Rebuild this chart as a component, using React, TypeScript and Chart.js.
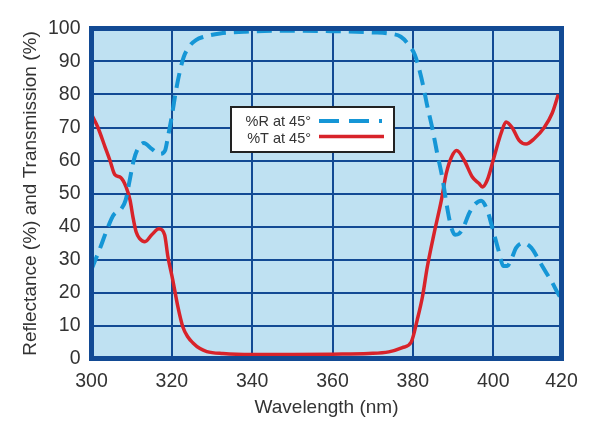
import React, { useEffect, useRef } from "react";
import { Chart, registerables } from "chart.js";

Chart.register(...registerables);

// Reflectance (%R at 45°) — wavelength (nm) and values (%)
const R_NM = [300, 302, 304, 305.5, 307.5, 308.5, 309.5, 310.5, 311.5, 313, 315, 317, 318.3, 319, 320, 321, 322, 323, 324.5, 326, 328, 332, 338, 345, 360, 370, 374, 377, 379, 380.5, 381.5, 382.5, 383.5, 384.8, 386, 387.3, 388.5, 389.5, 390.5, 391.5, 392.5, 394, 395.5, 397, 398.5, 399.7, 401.5, 402.5, 403.5, 404.5, 405.7, 407.5, 409.5, 411.5, 413.2, 414.7, 416, 417];
const R_VAL = [27, 33, 39.5, 43.5, 45.5, 48, 54, 60, 63.5, 65.3, 63.5, 62, 63, 67, 73.5, 81, 87, 91.5, 94.8, 96.5, 97.5, 98.5, 99, 99.3, 99.2, 98.8, 98.5, 97.5, 95, 92, 88, 83, 77, 70, 62.5, 55, 46, 40, 37.5, 37.8, 39.5, 44, 46.8, 47.8, 45, 40, 32, 28, 28, 30, 33.5, 35, 33.5, 29.5, 26, 23, 20, 18];

// Transmission (%T at 45°)
const T_NM = [300, 301.6, 303.4, 304.6, 305.8, 307.3, 308.6, 309.6, 310.3, 311.1, 312, 313.3, 315, 316.8, 318.2, 319, 320.2, 321.5, 322.7, 324, 325.2, 327, 328.7, 332.7, 340, 350, 360, 369, 374, 377.4, 379.6, 381.1, 382.4, 383.6, 385.3, 387.1, 388.3, 389.6, 390.9, 392.8, 394.8, 396.5, 397.3, 398.5, 400.2, 402, 403.2, 404.7, 406.5, 408.2, 410.2, 412.7, 414.7, 416.2];
const T_VAL = [74, 70, 64, 60, 55.7, 54.8, 52, 48, 43, 38.4, 36.3, 35.4, 37.5, 39.3, 37.5, 31, 24, 15.7, 9.7, 6.5, 4.8, 3, 2.1, 1.5, 1.2, 1.2, 1.3, 1.5, 2, 3.3, 5, 11.8, 18.8, 27.8, 38, 48, 56, 61, 63, 60, 55, 53, 52, 54, 61, 68.4, 71.7, 70, 66, 65, 66.6, 70, 74.4, 80];

const X_TICKS = [300, 320, 340, 360, 380, 400, 417];
const X_TICK_LABELS = ["300", "320", "340", "360", "380", "400", "420"];
const X_MIN = 300;
const X_MAX = 417;
const Y_MIN = 0;
const Y_MAX = 100;
const Y_STEP = 10;

const LABEL_R = "%R at 45°";
const LABEL_T = "%T at 45°";
const X_TITLE = "Wavelength (nm)";
const Y_TITLE = "Reflectance (%) and Transmission (%)";

const FRAME = "#124a94";
const PLOT_BG = "#bfe1f2";
const R_COLOR = "#1596d6";
const T_COLOR = "#d8232a";
const TEXT = "#333333";
const FONT_FAMILY = "'Liberation Sans', Arial, sans-serif";

const R_DASH = [15, 8];

const framePlugin = {
  id: "frameAndLegend",
  beforeDraw(chart: any) {
    const { ctx, chartArea } = chart;
    ctx.save();
    ctx.fillStyle = "#ffffff";
    ctx.fillRect(0, 0, chart.width, chart.height);
    ctx.fillStyle = PLOT_BG;
    ctx.fillRect(chartArea.left, chartArea.top, chartArea.right - chartArea.left, chartArea.bottom - chartArea.top);
    ctx.restore();
  },
  afterDatasetsDraw(chart: any) {
    const { ctx, chartArea } = chart;
    const { left, top, right, bottom } = chartArea;
    ctx.save();
    ctx.strokeStyle = FRAME;
    ctx.lineWidth = 5;
    ctx.strokeRect(left, top, right - left, bottom - top);

    // legend box
    const bx = 231, by = 107, bw = 163, bh = 45;
    ctx.fillStyle = "#ffffff";
    ctx.fillRect(bx, by, bw, bh);
    ctx.strokeStyle = "#222222";
    ctx.lineWidth = 2;
    ctx.strokeRect(bx, by, bw, bh);

    const ds = chart.data.datasets;
    ctx.font = `14.5px ${FONT_FAMILY}`;
    ctx.fillStyle = TEXT;
    ctx.textAlign = "right";
    ctx.textBaseline = "middle";
    ctx.fillText(ds[0].label, 311, 122);
    ctx.fillText(ds[1].label, 311, 138.5);

    ctx.lineCap = "butt";
    ctx.lineWidth = 4;
    ctx.strokeStyle = ds[0].borderColor;
    ctx.setLineDash([20, 10, 20, 10, 3, 100]);
    ctx.beginPath();
    ctx.moveTo(319, 121);
    ctx.lineTo(384, 121);
    ctx.stroke();

    ctx.setLineDash([]);
    ctx.lineWidth = 3.5;
    ctx.strokeStyle = ds[1].borderColor;
    ctx.beginPath();
    ctx.moveTo(319, 136.5);
    ctx.lineTo(384, 136.5);
    ctx.stroke();
    ctx.restore();
  },
};

export default function App() {
  const canvasRef = useRef<HTMLCanvasElement | null>(null);

  useEffect(() => {
    const canvas = canvasRef.current;
    if (!canvas) return;
    const font = { family: FONT_FAMILY, size: 19 };
    const tickFont = { family: FONT_FAMILY, size: 19.5 };
    const chart = new Chart(canvas, {
      type: "line",
      data: {
        datasets: [
          {
            label: LABEL_R,
            data: R_NM.map((x, i) => ({ x, y: R_VAL[i] })),
            borderColor: R_COLOR,
            borderWidth: 4,
            borderDash: R_DASH,
            borderCapStyle: "butt",
            pointRadius: 0,
            cubicInterpolationMode: "monotone",
            fill: false,
          },
          {
            label: LABEL_T,
            data: T_NM.map((x, i) => ({ x, y: T_VAL[i] })),
            borderColor: T_COLOR,
            borderWidth: 3.5,
            pointRadius: 0,
            cubicInterpolationMode: "monotone",
            fill: false,
          },
        ],
      },
      options: {
        responsive: false,
        animation: false,
        layout: { padding: { top: 28.5, right: 38.5, left: 0, bottom: 0 } },
        plugins: { legend: { display: false }, tooltip: { enabled: false } },
        scales: {
          x: {
            type: "linear",
            min: X_MIN,
            max: X_MAX,
            afterBuildTicks: (s: any) => {
              s.ticks = X_TICKS.map((v) => ({ value: v }));
            },
            afterFit: (s: any) => {
              s.height = 77.5;
            },
            ticks: {
              autoSkip: false,
              maxRotation: 0,
              padding: 11,
              font: tickFont,
              color: TEXT,
              callback: (v: any) => {
                const i = X_TICKS.indexOf(Number(v));
                return i >= 0 ? X_TICK_LABELS[i] : "";
              },
            },
            grid: { color: FRAME, lineWidth: 2, drawTicks: false },
            border: { display: false },
            title: { display: true, text: X_TITLE, font, color: TEXT, padding: { top: 0, bottom: 17 } },
          },
          y: {
            type: "linear",
            min: Y_MIN,
            max: Y_MAX,
            afterFit: (s: any) => {
              s.width = 91.5;
            },
            ticks: { stepSize: Y_STEP, padding: 11, font: tickFont, color: TEXT },
            grid: { color: FRAME, lineWidth: 2, drawTicks: false },
            border: { display: false },
            title: { display: true, text: Y_TITLE, font, color: TEXT, padding: { top: 19, bottom: 0 } },
          },
        },
      },
      plugins: [framePlugin],
    } as any);
    return () => chart.destroy();
  }, []);

  return (
    <div style={{ position: "fixed", left: 0, top: 0, width: 600, height: 436 }}>
      <canvas ref={canvasRef} width={600} height={436} style={{ display: "block" }} />
    </div>
  );
}
